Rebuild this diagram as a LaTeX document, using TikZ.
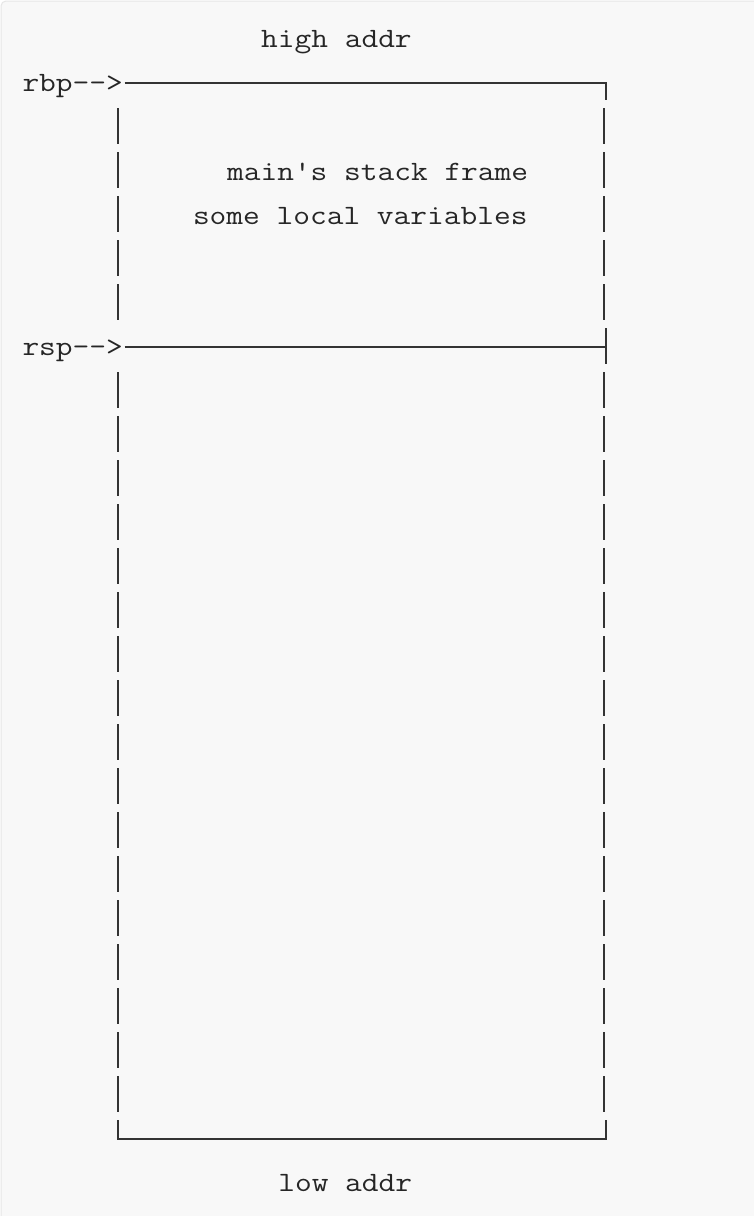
\documentclass[tikz,border=0pt]{standalone}
\usepackage{fontspec}
\setmonofont[FakeStretch=1.16]{Latin Modern Mono}
\usetikzlibrary{calc}
\begin{document}
\begin{tikzpicture}[x=1pt,y=-1pt,
  txt/.style={anchor=base west,inner sep=0pt,outer sep=0pt,text=inktxt,
    font=\fontsize{28}{34}\selectfont\ttfamily},
  boxline/.style={draw=ink,line width=1.8pt,line cap=butt}]
\definecolor{ink}{HTML}{333333}
\definecolor{inktxt}{HTML}{262626}
\definecolor{bg}{HTML}{F8F8F8}
\definecolor{rim}{HTML}{E6E6E6}
\useasboundingbox (0,0) rectangle (754,1216);
\clip (0,0) rectangle (754,1216);
\fill[white] (0,0) rectangle (754,1216);
\draw[rim,fill=bg,line width=1pt,rounded corners=5pt] (1,1) rectangle (770,1230);
% texts
\node[txt] (high) at (261.2,47) {high addr};
\node[txt] (rbp) at (22.5,91) {rbp-->};
\node[txt] (main) at (227.1,180) {main's stack frame};
\node[txt] (vars) at (193,224) {some local variables};
\node[txt] (rsp) at (22.5,355) {rsp-->};
\node[txt] (low) at (278.3,1191) {low addr};
% coordinates
\coordinate (tl) at (124.5,83);
\coordinate (tr) at (606,83);
\coordinate (ml) at (124.5,347);
\coordinate (mr) at (606,347);
\coordinate (bl) at (118,1139);
\coordinate (br) at (606,1139);
% top line with corner
\draw[boxline] (tl) -- (tr) -- ++(0,17);
% rsp line with tee
\draw[boxline] (ml) -- (mr);
\draw[boxline] ($(mr)+(0,-19)$) -- ($(mr)+(0,17)$);
% bottom corners
\draw[boxline] ($(bl)+(0,-19)$) -- (bl) -- (br) -- ++(0,-19);
% vertical segments
\foreach \n in {2,...,6,8,9,...,24}{
  \pgfmathsetmacro{\yc}{40+44*\n}
  \draw[boxline] (118,\yc-20) -- (118,\yc+16);
  \draw[boxline] (604.3,\yc-20) -- (604.3,\yc+16);
}
\end{tikzpicture}
\end{document}
